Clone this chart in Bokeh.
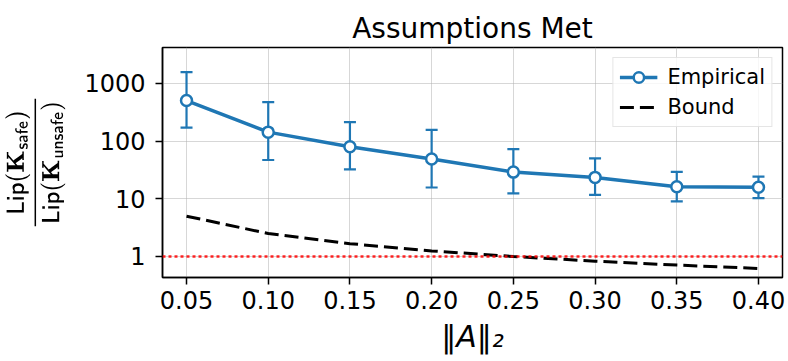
from bokeh.plotting import figure
from bokeh.models import (ColumnDataSource, Whisker, TeeHead, Span, Range1d, FixedTicker)
from bokeh.embed import file_html
from bokeh.resources import INLINE

# ---------------- data ----------------
a_norm = [0.05, 0.10, 0.15, 0.20, 0.25, 0.30, 0.35, 0.40]
empirical = [505, 143, 80, 49, 29, 23.5, 16.2, 15.8]
emp_upper = [1570, 474, 213, 157, 72.6, 50, 29.4, 24.3]
emp_lower = [171, 47, 32.3, 15.7, 12.4, 11.7, 9.0, 10.3]
bound = [5.0, 2.5, 1.67, 1.25, 1.0, 0.83, 0.71, 0.62]
ref_level = 1
x_ticks = [0.05, 0.10, 0.15, 0.20, 0.25, 0.30, 0.35, 0.40]
x_tick_labels = ["0.05", "0.10", "0.15", "0.20", "0.25", "0.30", "0.35", "0.40"]
y_ticks = [1, 10, 100, 1000]
y_tick_labels = ["1", "10", "100", "1000"]
title_text = "Assumptions Met"
x_label = "\u2016A\u2016\u2082"
y_label = (r"$$\frac{\mathsf{Lip}(\mathbf{K}_{\mathsf{safe}})}"
           r"{\mathsf{Lip}(\mathbf{K}_{\mathsf{unsafe}})}$$")
series_names = ["Empirical", "Bound"]

# ---------------- style ----------------
BLUE = "#1f77b4"
FONT = "DejaVu Sans"

p = figure(width=788, height=361, output_backend="svg", toolbar_location=None,
           x_range=Range1d(0.0353, 0.4147), y_range=Range1d(0.4325, 4190),
           y_axis_type="log", title=title_text,
           min_border_left=162, min_border_right=6, min_border_top=47, min_border_bottom=84)
p.title.text_font = FONT
p.title.text_font_size = "28px"
p.title.text_font_style = "normal"
p.title.text_color = "black"
p.title.align = "center"
p.title.standoff = 5

p.background_fill_color = "white"
p.border_fill_color = "white"
p.outline_line_color = "black"
p.outline_line_width = 1.5

p.xaxis.ticker = FixedTicker(ticks=x_ticks)
p.yaxis.ticker = FixedTicker(ticks=y_ticks, minor_ticks=[])
p.xaxis.major_label_overrides = dict(zip(x_ticks, x_tick_labels))
p.yaxis.major_label_overrides = dict(zip(y_ticks, y_tick_labels))
for ax in (p.xaxis, p.yaxis):
    ax.axis_line_color = "black"
    ax.axis_line_width = 1.5
    ax.major_tick_line_color = "black"
    ax.major_tick_line_width = 1.5
    ax.major_tick_out = 7
    ax.major_tick_in = 0
    ax.minor_tick_line_color = None
    ax.major_label_text_font = FONT
    ax.major_label_text_font_size = "24px"
    ax.major_label_text_color = "black"
    ax.axis_label_text_color = "black"
    ax.axis_label_text_font = FONT
p.xaxis.major_label_standoff = 6
p.yaxis.major_label_standoff = 10

p.xaxis.axis_label = x_label
p.xaxis.axis_label_text_font_size = "30px"
p.xaxis.axis_label_text_font_style = "italic"
p.xaxis.axis_label_standoff = 7

p.yaxis.axis_label = y_label
p.yaxis.axis_label_text_font_size = "20px"
p.yaxis.axis_label_standoff = 16

p.grid.grid_line_color = "#b0b0b0"
p.grid.grid_line_alpha = 0.5
p.grid.grid_line_width = 1

src = ColumnDataSource(dict(x=a_norm, y=empirical, upper=emp_upper, lower=emp_lower, b=bound))

whisk = Whisker(base="x", upper="upper", lower="lower", source=src, dimension="height",
                line_color=BLUE, line_width=2.2, level="underlay",
                upper_head=TeeHead(size=12, line_color=BLUE, line_width=2.2),
                lower_head=TeeHead(size=12, line_color=BLUE, line_width=2.2))
p.add_layout(whisk)

p.add_layout(Span(location=ref_level, dimension="width", line_color="red",
                  line_alpha=0.85, line_width=2.5, line_dash="3 3"))

p.line("x", "y", source=src, line_color=BLUE, line_width=3.5, legend_label=series_names[0])
p.scatter("x", "y", source=src, marker="circle", size=11, fill_color="white",
          line_color=BLUE, line_width=2.5, legend_label=series_names[0])
p.line("x", "b", source=src, line_color="black", line_width=3, line_dash="14 6",
       legend_label=series_names[1])

lg = p.legend[0]
lg.location = "top_right"
lg.margin = 10
lg.padding = 6
lg.spacing = 4
lg.glyph_width = 38
lg.glyph_height = 26
lg.label_height = 26
lg.label_standoff = 10
lg.label_text_font = FONT
lg.label_text_font_size = "21px"
lg.label_text_color = "black"
lg.border_line_color = "#cccccc"
lg.border_line_width = 1.2
lg.background_fill_alpha = 0.8

open("out.html", "w").write(file_html(p, INLINE))
